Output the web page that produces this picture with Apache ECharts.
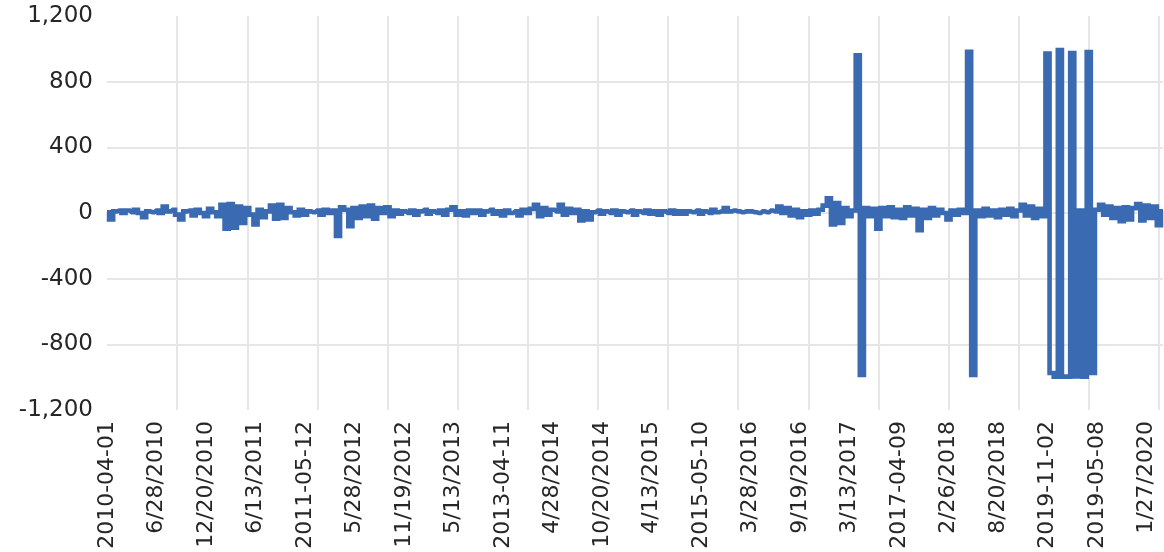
<!DOCTYPE html>
<html>
<head>
<meta charset="utf-8">
<script src="https://cdn.jsdelivr.net/npm/echarts@6/dist/echarts.min.js"></script>
<style>
  html, body { margin: 0; padding: 0; background: #fff; }
  #main { width: 1164px; height: 552px; }
</style>
</head>
<body>
<div id="main"></div>
<script>
// tick labels shown on the x axis, one every 12 points
var tickLabels = ['2010-04-01', '6/28/2010', '12/20/2010', '6/13/2011', '2011-05-12', '5/28/2012',
  '11/19/2012', '5/13/2013', '2013-04-11', '4/28/2014', '10/20/2014', '4/13/2015', '2015-05-10',
  '3/28/2016', '9/19/2016', '3/13/2017', '2017-04-09', '2/26/2018', '8/20/2018', '2019-11-02',
  '2019-05-08', '1/27/2020'];
var labelStep = 12;

// series values
var values = [
  5, -40, 10, 15, 0, 15, 5, 20, 0, -25,
  10, 5, 15, 0, 40, 10, 20, -10, -40, 10,
  15, -15, 20, 0, -20, 25, 5, -20, 50, -95,
  55, -90, 40, -60, 30, -10, -70, 20, -25, 10,
  45, -35, 50, -30, 30, 5, -15, 20, -10, 10,
  5, 15, -10, 20, 0, 15, -140, 35, 20, -80,
  30, -30, 40, -20, 45, -35, 30, 0, 35, -20,
  15, -5, 10, 0, 15, -10, 10, 20, -5, 10,
  0, 15, -10, 20, 35, -10, 10, -15, 15, 0,
  15, -10, 10, 20, -5, 10, -15, 15, 0, 10,
  -15, 20, 0, 25, 50, -20, 30, -10, 20, 10,
  50, -10, 25, 0, 20, -45, 10, -40, 5, 15,
  -5, 10, 0, 15, -10, 10, 5, 15, -10, 10,
  0, 15, -5, 10, -10, 10, 0, 15, -5, 10,
  -5, 10, 5, 15, -5, 10, 0, 20, 5, 10,
  30, 10, 15, 10, 5, 10, 10, 5, 0, 10,
  5, 15, 10, 40, 0, 30, -15, 20, -25, 10,
  -10, 15, -5, 20, 45, 90, -70, 60, -60, 30,
  -20, 15, 960, -987, 30, -20, 25, -95, 30, -20,
  35, -25, 20, -30, 35, -15, 25, -105, 20, -30,
  30, -15, 20, 0, -40, 15, -10, 20, 0, 982,
  -987, 15, -20, 25, -15, 15, -25, 20, -10, 25,
  -20, 15, 50, -15, 40, -30, 25, -20, 972, -975,
  -997, 993, -997, -997, 974, -995, 15, -997, 980, -975,
  20, 50, -10, 40, -30, 30, -50, 35, -40, 30,
  55, -45, 45, -30, 40, -75, 10
];

var categories = values.map(function (v, i) {
  return i % labelStep === 0 ? tickLabels[i / labelStep] : String(i);
});

var myChart = echarts.init(document.getElementById('main'));
myChart.setOption({
  animation: false,
  backgroundColor: '#fff',
  grid: { left: 107, right: 1, top: 16, bottom: 142 },
  xAxis: {
    type: 'category',
    data: categories,
    boundaryGap: false,
    axisLine: { show: false },
    axisTick: { show: false },
    axisLabel: {
      interval: labelStep - 1,
      rotate: 90,
      margin: 11,
      color: '#262626',
      fontFamily: 'DejaVu Sans',
      fontSize: 22
    },
    splitLine: {
      show: true,
      interval: 16,
      showMinLine: false,
      lineStyle: { color: '#e6e6e6', width: 2 }
    }
  },
  yAxis: {
    type: 'value',
    min: -1200,
    max: 1200,
    interval: 400,
    axisLine: { show: false },
    axisTick: { show: false },
    axisLabel: {
      margin: 14,
      color: '#262626',
      fontFamily: 'DejaVu Sans',
      fontSize: 23,
      formatter: function (v) {
        return String(v).replace(/\B(?=(\d{3})+(?!\d))/g, ',');
      }
    },
    splitLine: {
      show: true,
      showMinLine: false,
      showMaxLine: false,
      lineStyle: { color: '#e6e6e6', width: 2 }
    }
  },
  series: [{
    type: 'line',
    data: values,
    step: 'middle',
    symbol: 'none',
    lineStyle: { color: '#3a6ab1', width: 4.6, cap: 'butt', join: 'miter' },
    z: 3
  }]
});
</script>
</body>
</html>
